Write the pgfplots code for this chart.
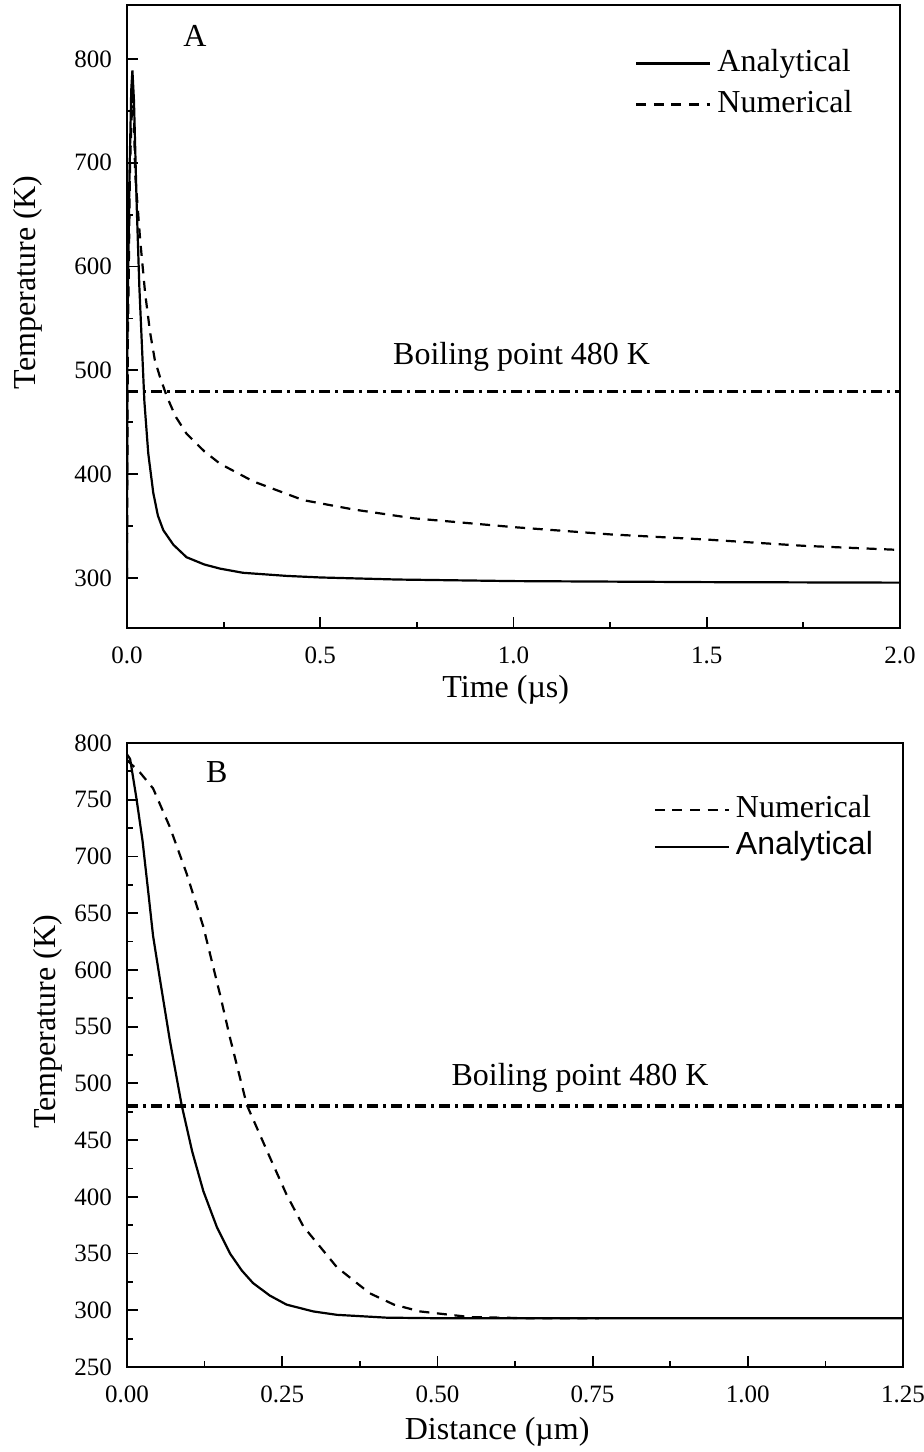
\documentclass[border=0pt]{standalone}
\usepackage{fontspec}
\setmainfont{Liberation Serif}
\newfontfamily\arialfont{Liberation Sans}
\usepackage{pgfplots}
\pgfplotsset{compat=1.18}

% temperature histories (panel A) and spatial profiles (panel B)
\pgfplotstableread{
t T
0.000 300
0.001 530
0.006 680
0.011 770
0.014 789
0.018 760
0.025 660
0.032 580
0.038 529
0.045 470
0.055 420
0.068 382
0.080 360
0.094 346
0.120 332
0.154 320
0.200 313
0.241 309
0.300 305
0.413 302
0.500 300.5
0.700 298.5
1.000 297
1.500 296
2.000 295.5
}\timeAnalytical

\pgfplotstableread{
t T
0.000 300
0.002 520
0.008 700
0.014 765
0.018 745
0.021 690
0.034 626
0.047 574
0.060 536
0.072 510
0.085 494
0.103 475
0.125 456
0.154 439
0.200 422
0.241 410
0.327 393
0.456 375
0.586 366
0.741 357.5
1.000 349
1.250 342
1.500 337
1.750 331
2.000 327
}\timeNumerical

\pgfplotstableread{
x T
0.000 790
0.005 786
0.015 752
0.025 714
0.035 665
0.042 630
0.053 592
0.069 538
0.088 481
0.105 440
0.123 405
0.145 373
0.166 350
0.185 335
0.203 324
0.230 313
0.257 305
0.300 299
0.338 296
0.418 293.5
0.500 293
1.250 293
}\distAnalytical

\pgfplotstableread{
x T
0.000 785
0.021 774
0.042 760
0.069 726
0.096 685
0.123 638
0.150 578
0.166 540
0.193 481
0.230 435
0.257 402
0.284 374
0.338 338
0.391 315
0.430 305
0.472 299
0.553 294
0.650 293
0.760 293
}\distNumerical

\pgfplotsset{
  panel/.style={
    scale only axis,
    axis line style={line width=1.1pt},
    tick pos=left,
    tick align=inside,
    major tick length=5.3pt,
    minor tick length=3pt,
    every tick/.style={black, line width=0.9pt},
    minor x tick num=1,
    minor y tick num=1,
    /pgf/number format/assume math mode=true,
    tick label style={font=\fontsize{12.5}{15}\selectfont},
    yticklabel style={xshift=-4pt},
    xticklabel style={yshift=-6pt},
    label style={font=\fontsize{16}{19}\selectfont},
    ylabel style={anchor=center},
    xlabel style={anchor=center},
    legend cell align=left,
    legend image code/.code={\draw[##1] (0pt,0pt) -- (37pt,0pt);},
    legend style={draw=none, fill=none, anchor=north east, inner sep=0pt,
      font=\fontsize{16}{19}\selectfont, column sep=3pt,
      nodes={inner sep=0pt, text height=11pt, text depth=3.5pt}},
  },
  curve/.style={black, line width=1.1pt},
  numcurve/.style={black, line width=1.1pt, dash pattern=on 5pt off 3.8pt},
  boiling/.style={black, line width=1.6pt, dash pattern=on 5.5pt off 2.5pt on 1.5pt off 2.5pt},
}

\begin{document}
\begin{tikzpicture}
\path[use as bounding box] (0pt,0pt) rectangle (461.5pt,-726pt);

% Panel A: temperature versus time
\begin{axis}[panel,
  at={(63.5pt,-314pt)}, anchor=south west,
  width=386.5pt, height=311.5pt,
  xmin=0, xmax=2, ymin=251.8, ymax=852,
  xtick={0,0.5,...,2}, ytick={300,400,...,800},
  xticklabel style={/pgf/number format/.cd, fixed, fixed zerofill, precision=1},
  xlabel={Time (µs)}, ylabel={Temperature (K)},
  xlabel style={at={(axis description cs:0.49,-0.0995)}},
  ylabel style={at={(axis description cs:-0.128,0.555)}},
  legend style={at={(axis description cs:0.939,0.93)}, row sep=6pt},
]
\addplot[curve] table[x=t, y=T] {\timeAnalytical};
\addlegendentry{Analytical}
\addplot[numcurve] table[x=t, y=T] {\timeNumerical};
\addlegendentry{Numerical}
\addplot[boiling, forget plot] coordinates {(0,480) (2,480)};
\node[font=\fontsize{16}{19}\selectfont, anchor=base] at (axis cs:1.021,506) {Boiling point 480 K};
\node[font=\fontsize{16}{19}\selectfont, anchor=base] at (axis cs:0.176,811.8) {A};
\end{axis}

% Panel B: temperature versus distance
\begin{axis}[panel,
  at={(63.5pt,-683.5pt)}, anchor=south west,
  width=388pt, height=312pt,
  xmin=0, xmax=1.25, ymin=250, ymax=800,
  xtick={0,0.25,...,1.25}, ytick={250,300,...,800},
  xticklabel style={/pgf/number format/.cd, fixed, fixed zerofill, precision=2},
  xlabel={Distance (µm)}, ylabel={Temperature (K)},
  xlabel style={at={(axis description cs:0.477,-0.104)}},
  ylabel style={at={(axis description cs:-0.102,0.553)}},
  legend style={at={(axis description cs:0.9617,0.917)}, row sep=4pt},
]
\addplot[numcurve] table[x=x, y=T] {\distNumerical};
\addlegendentry{Numerical}
\addplot[curve] table[x=x, y=T] {\distAnalytical};
\addlegendentry{\arialfont Analytical}
\addplot[boiling, forget plot] coordinates {(0,480) (1.25,480)};
\node[font=\fontsize{16}{19}\selectfont, anchor=base] at (axis cs:0.7297,497.7) {Boiling point 480 K};
\node[font=\fontsize{16}{19}\selectfont, anchor=base] at (axis cs:0.1445,765) {B};
\end{axis}
\end{tikzpicture}
\end{document}
